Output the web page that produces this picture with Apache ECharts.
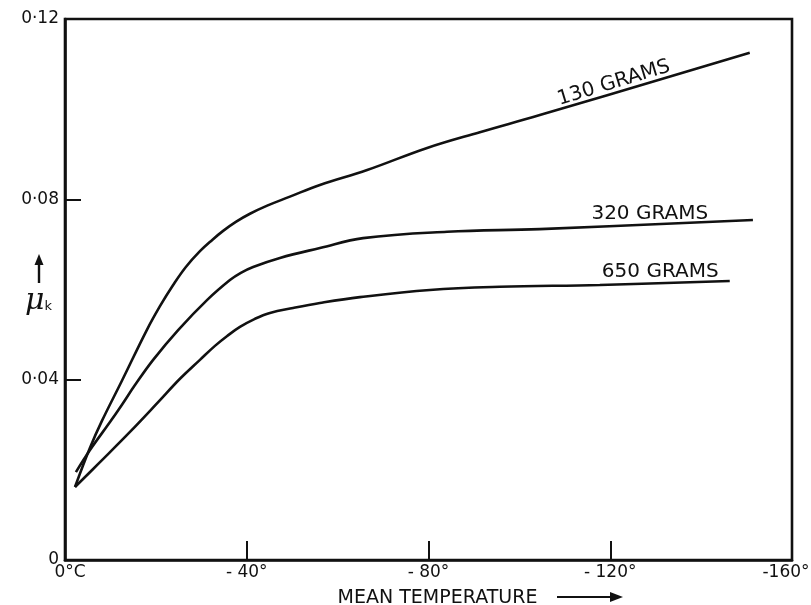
<!DOCTYPE html>
<html>
<head>
<meta charset="utf-8">
<title>Kinetic friction versus mean temperature</title>
<script src="https://cdn.jsdelivr.net/npm/echarts@6/dist/echarts.min.js"></script>
<style>
  html, body { margin: 0; padding: 0; background: #fff; }
  #chart { width: 811px; height: 605px; }
</style>
</head>
<body>
<div id="chart"></div>
<script>
// Mean temperature (°C) and coefficient of kinetic friction for each load
const temps130 = [-2.2, -5.5, -8.1, -12.5, -18.0, -20.9, -23.8, -26.6, -29.7, -32.4, -34.8, -37.6, -40.7, -44.5, -49.5, -56.1, -66.5, -79.7, -91.3, -104.5, -150.7];
const mu130    = [0.0162, 0.0249, 0.0308, 0.0397, 0.0510, 0.0563, 0.0610, 0.0650, 0.0685, 0.0710, 0.0730, 0.0750, 0.0768, 0.0786, 0.0806, 0.0832, 0.0865, 0.0914, 0.0949, 0.0987, 0.1125];

const temps320 = [-2.4, -5.5, -9.9, -12.5, -15.4, -19.4, -24.9, -31.3, -36.3, -38.7, -41.4, -47.3, -56.1, -65.6, -84.1, -104.5, -151.4];
const mu320    = [0.0195, 0.0244, 0.0306, 0.0344, 0.0388, 0.0444, 0.0510, 0.0577, 0.0621, 0.0637, 0.0650, 0.0670, 0.0692, 0.0714, 0.0728, 0.0734, 0.0754];

const temps650 = [-2.2, -7.7, -14.3, -20.5, -25.3, -29.7, -33.0, -35.7, -38.5, -41.8, -45.1, -50.2, -56.1, -64.9, -80.3, -95.7, -117.7, -146.3];
const mu650    = [0.0162, 0.0217, 0.0284, 0.0350, 0.0402, 0.0444, 0.0475, 0.0497, 0.0517, 0.0535, 0.0548, 0.0559, 0.0570, 0.0583, 0.0599, 0.0606, 0.0610, 0.0619];

const loadNames = ['130 GRAMS', '320 GRAMS', '650 GRAMS'];
// where each curve's name sits, in axis units, and its slant
const nameAnchorT = [-120.8, -128.7, -131.0];
const nameAnchorMu = [0.1058, 0.0769, 0.0639];
const nameTilt = [17, 0, 0];

// tick values and their printed labels
const xTicks = [0, -40, -80, -120, -160];
const xTickLabels = ['0°C', '- 40°', '- 80°', '- 120°', '-160°'];
const yTicks = [0, 0.04, 0.08, 0.12];
const yTickLabels = ['0', '0·04', '0·08', '0·12'];

const INK = '#111';
const FONT = '"DejaVu Sans", sans-serif';

function zip(xs, ys) { return xs.map((x, i) => [x, ys[i]]); }

function curve(name, xs, ys, idx) {
  return {
    name: name,
    type: 'line',
    data: zip(xs, ys),
    smooth: 0.4,
    showSymbol: false,
    silent: true,
    lineStyle: { color: INK, width: 2.6 },
    markPoint: {
      silent: true,
      symbol: 'circle',
      symbolSize: 0,
      data: [{ coord: [nameAnchorT[idx], nameAnchorMu[idx]] }],
      label: {
        show: true,
        position: 'inside',
        formatter: name,
        rotate: nameTilt[idx],
        color: INK,
        fontFamily: FONT,
        fontSize: 20
      }
    }
  };
}

function lookup(ticks, labels, v) {
  for (let i = 0; i < ticks.length; i++) {
    if (Math.abs(ticks[i] - v) < 1e-6) return labels[i];
  }
  return '';
}

// the end labels of the temperature axis are nudged inward a little
function xLabel(v) {
  const text = lookup(xTicks, xTickLabels, v);
  if (v === 0) return '{first|' + text + '}';
  if (v === -160) return '{last|' + text + '}';
  return text;
}

const chart = echarts.init(document.getElementById('chart'), null, { renderer: 'canvas' });

chart.setOption({
  backgroundColor: '#fff',
  animation: false,
  grid: {
    left: 65, right: 19, top: 19, bottom: 45,
    outerBoundsMode: 'none',
    containLabel: false,
    show: true, borderColor: INK, borderWidth: 2.6, backgroundColor: 'transparent'
  },
  xAxis: {
    type: 'value',
    min: -160, max: 0, interval: 40,
    inverse: true,
    name: 'MEAN TEMPERATURE',
    nameLocation: 'middle',
    nameGap: 29,
    nameTextStyle: { color: INK, fontFamily: FONT, fontSize: 19, padding: [0, 0, 0, 18] },
    axisLine: { show: true, lineStyle: { color: INK, width: 2.6 } },
    axisTick: { show: true, inside: true, length: 19, lineStyle: { color: INK, width: 2 } },
    splitLine: { show: false },
    axisLabel: {
      color: INK, fontFamily: FONT, fontSize: 17, margin: 4,
      formatter: xLabel,
      rich: {
        first: { color: INK, fontFamily: FONT, fontSize: 17, padding: [0, 0, 0, 10] },
        last: { color: INK, fontFamily: FONT, fontSize: 17, padding: [0, 12, 0, 0] }
      }
    }
  },
  yAxis: {
    type: 'value',
    min: 0, max: 0.12, interval: 0.04,
    axisLine: { show: true, lineStyle: { color: INK, width: 2.6 } },
    axisTick: { show: true, inside: true, length: 16, lineStyle: { color: INK, width: 2 } },
    splitLine: { show: false },
    axisLabel: {
      color: INK, fontFamily: FONT, fontSize: 17, margin: 6,
      formatter: v => lookup(yTicks, yTickLabels, v)
    }
  },
  graphic: [
    // arrow after the temperature axis title
    { type: 'line', silent: true, shape: { x1: 557, y1: 597, x2: 620, y2: 597 }, style: { stroke: INK, lineWidth: 2 } },
    { type: 'polygon', silent: true, shape: { points: [[623, 597], [610, 592], [610, 602]] }, style: { fill: INK } },
    // upward arrow above the friction symbol
    { type: 'line', silent: true, shape: { x1: 39, y1: 283, x2: 39, y2: 262 }, style: { stroke: INK, lineWidth: 2.4 } },
    { type: 'polygon', silent: true, shape: { points: [[39, 254], [34.5, 265], [43.5, 265]] }, style: { fill: INK } },
    {
      type: 'text', silent: true, left: 25, top: 286,
      style: {
        text: '{m|μ}{k|k}',
        rich: {
          m: { fontFamily: '"DejaVu Serif", serif', fontStyle: 'italic', fontSize: 30, fill: INK },
          k: { fontFamily: FONT, fontSize: 13, fill: INK, padding: [12, 0, 0, 0] }
        }
      }
    }
  ],
  series: [
    curve(loadNames[0], temps130, mu130, 0),
    curve(loadNames[1], temps320, mu320, 1),
    curve(loadNames[2], temps650, mu650, 2)
  ]
});
</script>
</body>
</html>
